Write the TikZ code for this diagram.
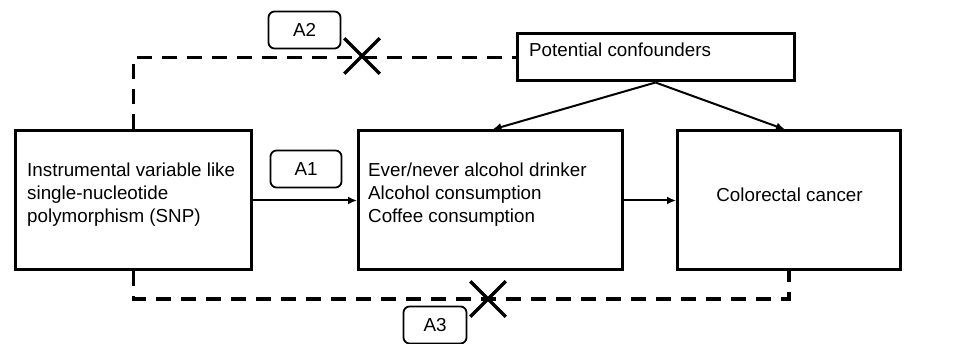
\documentclass[tikz,border=0pt]{standalone}
\usepackage{fontspec}
\setmainfont{Liberation Sans}
\usetikzlibrary{arrows.meta,shapes.misc}
\begin{document}
\begin{tikzpicture}[x=1pt,y=-1pt,
  font=\fontsize{18.8}{23}\selectfont,
  bigbox/.style={draw,line width=3,inner sep=0,minimum width=#1,minimum height=139},
  confbox/.style={draw,line width=3,inner sep=0,minimum width=277,minimum height=47},
  labbox/.style={draw,line width=1.8,rounded corners=6,inner sep=0,minimum width=#1,minimum height=37},
  txt/.style={inner sep=0,anchor=west,align=left},
  conn/.style={line width=2,-{Latex[length=9,width=8]}},
  dashline/.style={line width=3.5,dash pattern=on 15 off 10},
  xmark/.style={cross out,draw,line width=3.5,inner sep=0,minimum width=32,minimum height=32}
]
\useasboundingbox (0,0) rectangle (968,344);
\node[bigbox=236] (b1) at (133.5,200.5) {};
\node[bigbox=264] (b2) at (490.5,200.5) {};
\node[bigbox=223] (b3) at (789,200.5) {};
\node[confbox] (conf) at (655.5,57.5) {};
\node[txt] (b1t) at (27,195) {Instrumental variable like\\single-nucleotide\\polymorphism (SNP)};
\node[txt] (b2t) at (368,195) {Ever/never alcohol drinker\\Alcohol consumption\\Coffee consumption};
\node[inner sep=0] (b3t) at (789.5,195) {Colorectal cancer};
\node[txt] (conft) at (529,50) {Potential confounders};
\node[labbox=72] (a2) at (304.5,30) {A2};
\node[labbox=71] (a1) at (306,169) {A1};
\node[labbox=63] (a3) at (435,325) {A3};
\coordinate (bot) at (500,299);
\draw[dashline] (b1.north) |- (conf.west);
\draw[dashline] (b1.south) |- (bot) -| (b3.south);
\node[xmark] (x2) at (362,56) {};
\node[xmark] (x3) at (488,299) {};
\draw[conn] (b1.east) -- (b2.west);
\draw[conn] (b2.east) -- (b3.west);
\draw[conn] (conf.south) -- ([xshift=2]b2.north);
\draw[conn] (conf.south) -- ([xshift=-4]b3.north);
\end{tikzpicture}
\end{document}
